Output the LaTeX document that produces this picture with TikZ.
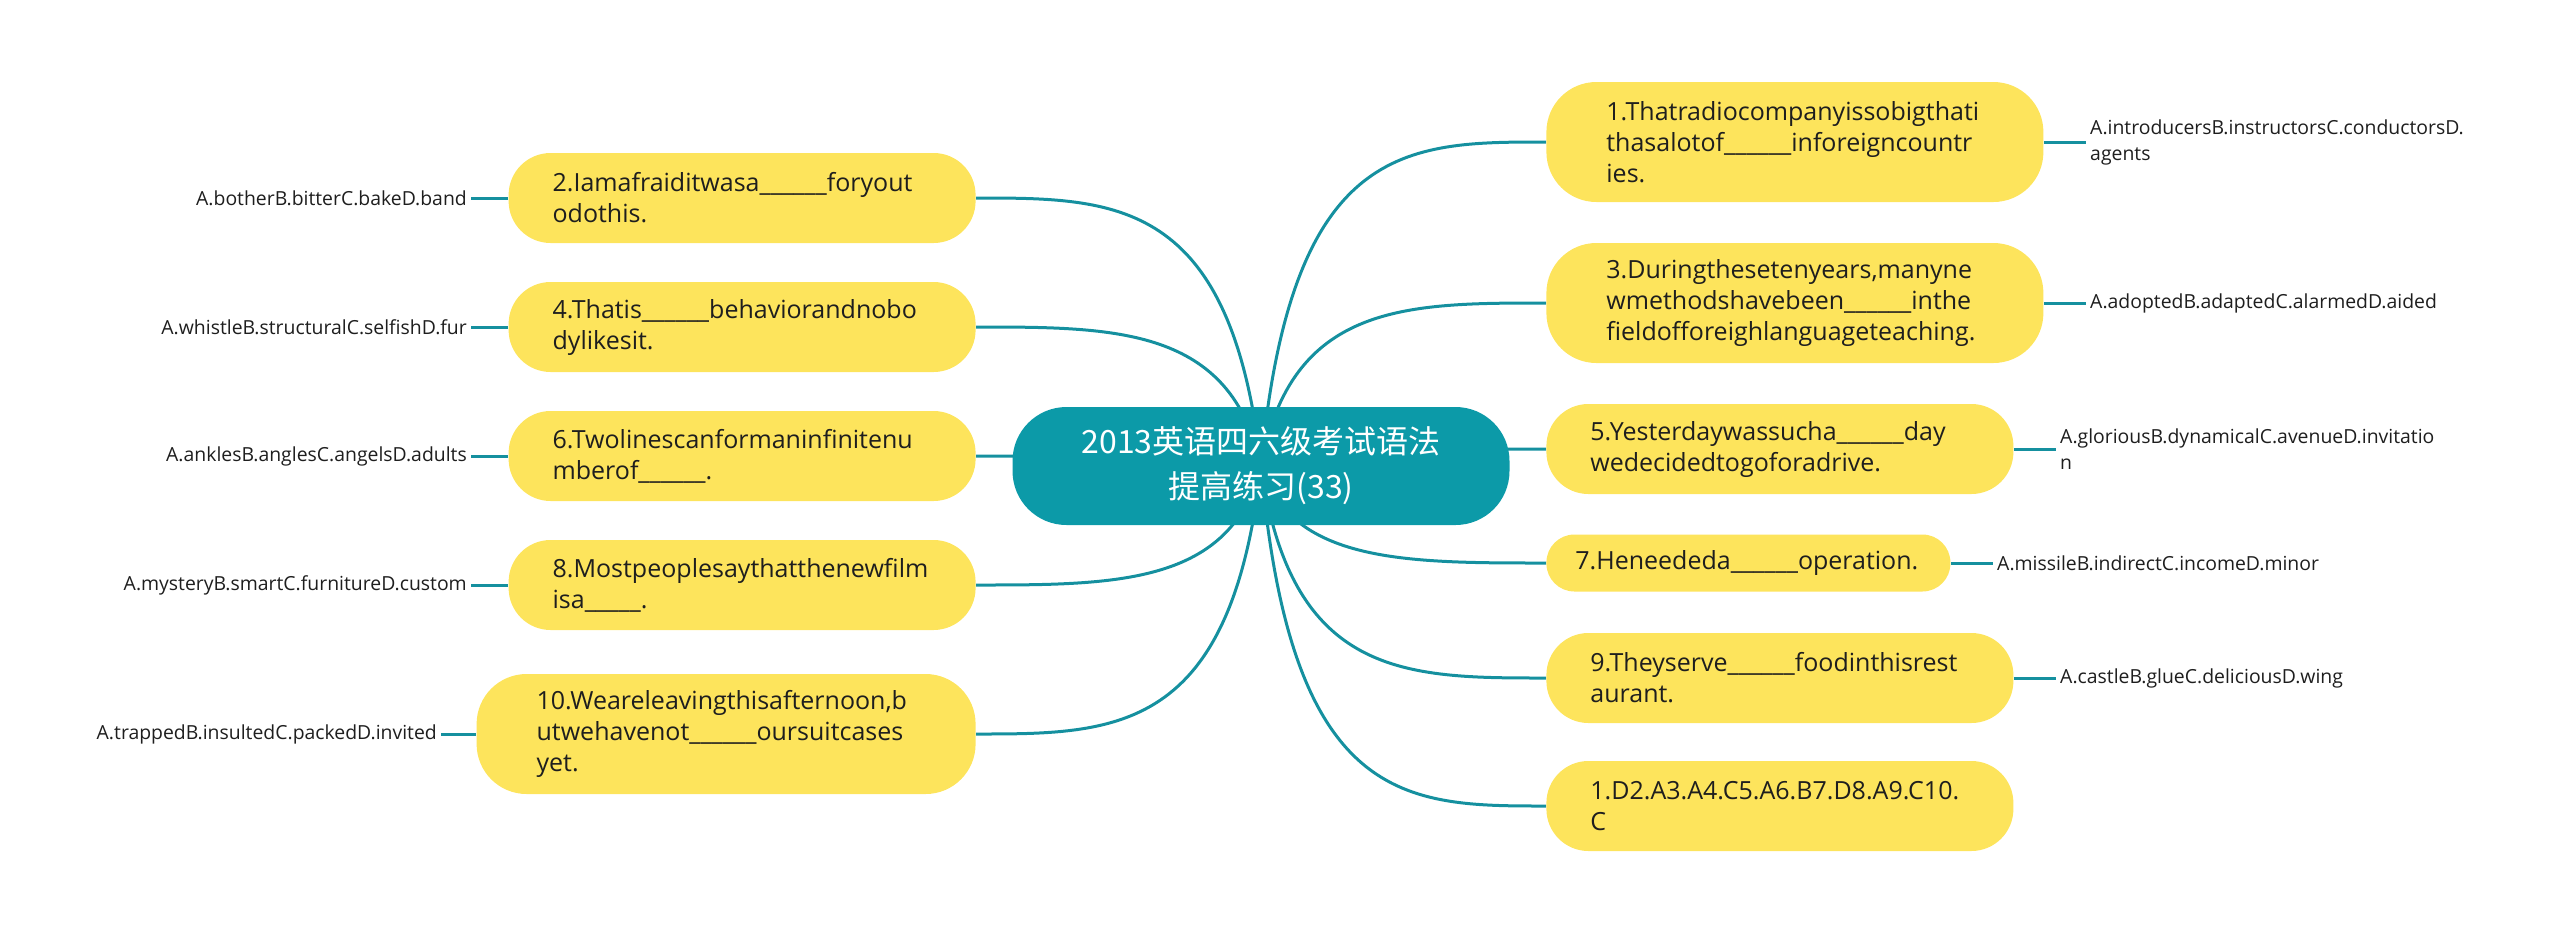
\documentclass[tikz,border=0pt]{standalone}
\usepackage{fontspec}
\setmainfont{Open Sans}
\newfontfamily\cjk{Noto Sans CJK SC}
\usetikzlibrary{backgrounds,calc}
\definecolor{yel}{HTML}{FDE45C}
\definecolor{tealc}{HTML}{0C9AA8}
\definecolor{linec}{HTML}{15909F}
\definecolor{txt}{HTML}{1E1E1E}
\begin{document}
\begin{tikzpicture}[x=0.5pt,y=-0.5pt,
  topic/.style={fill=yel, draw=none, align=left, inner ysep=0pt,
    text=txt, font=\fontsize{12.5}{15.5}\selectfont},
  three/.style={minimum height=60pt, rounded corners=25pt, inner xsep=30pt, text width=188.5pt},
  two/.style={minimum height=45pt, rounded corners=21pt, inner xsep=22pt, text width=189.5pt},
  one/.style={minimum height=28.5pt, rounded corners=14pt, inner xsep=14.5pt, text width=173pt},
  lab/.style={inner xsep=2pt, inner ysep=0pt, text=txt, font=\fontsize{9.7}{13}\selectfont},
  conn/.style={draw=linec, line width=1.5pt},
  centre/.style={fill=tealc, text=white, align=center, minimum width=248.5pt,
    minimum height=59pt, rounded corners=27pt, inner sep=0pt,
    font=\cjk\fontsize{16}{22.5}\selectfont}]
\useasboundingbox (0,0) rectangle (2560,933);
% centre
\node[centre] (c) at (1261,466) {2013英语四六级考试语法\\提高练习(33)};
% right topics
\node[topic, three, anchor=west] (r1) at (1546,142)
  {1.Thatradiocompanyissobigthati\\thasalotof\_\_\_\_\_\_inforeigncountr\\ies.};
\node[topic, three, anchor=west] (r3) at (1546,303)
  {3.Duringthesetenyears,manyne\\wmethodshavebeen\_\_\_\_\_\_inthe\\fieldofforeighlanguageteaching.};
\node[topic, two, anchor=west] (r5) at (1546,449)
  {5.Yesterdaywassucha\_\_\_\_\_\_day\\wedecidedtogoforadrive.};
\node[topic, one, anchor=west] (r7) at (1546,563)
  {7.Heneededa\_\_\_\_\_\_operation.};
\node[topic, two, anchor=west] (r9) at (1546,678)
  {9.Theyserve\_\_\_\_\_\_foodinthisrest\\aurant.};
\node[topic, two, anchor=west] (ra) at (1546,806)
  {1.D2.A3.A4.C5.A6.B7.D8.A9.C10.\\C};
% left topics
\node[topic, two, anchor=east] (l2) at (976,198)
  {2.Iamafraiditwasa\_\_\_\_\_\_foryout\\odothis.};
\node[topic, two, anchor=east] (l4) at (976,327)
  {4.Thatis\_\_\_\_\_\_behaviorandnobo\\dylikesit.};
\node[topic, two, anchor=east] (l6) at (976,456)
  {6.Twolinescanformaninfinitenu\\mberof\_\_\_\_\_\_.};
\node[topic, two, anchor=east] (l8) at (976,585)
  {8.Mostpeoplesaythatthenewfilm\\isa\_\_\_\_\_.};
\node[topic, three, text width=189.5pt, anchor=east] (l10) at (976,734)
  {10.Weareleavingthisafternoon,b\\utwehavenot\_\_\_\_\_\_oursuitcases\\yet.};
% right labels
\node[lab, align=left, anchor=west] (a1) at ($(r1.east)+(42,0)$) {A.introducersB.instructorsC.conductorsD.\\agents};
\node[lab, align=left, anchor=west] (a3) at ($(r3.east)+(42,0)$) {A.adoptedB.adaptedC.alarmedD.aided};
\node[lab, align=left, anchor=west] (a5) at ($(r5.east)+(42,0)$) {A.gloriousB.dynamicalC.avenueD.invitatio\\n};
\node[lab, align=left, anchor=west] (a7) at ($(r7.east)+(42,0)$) {A.missileB.indirectC.incomeD.minor};
\node[lab, align=left, anchor=west] (a9) at ($(r9.east)+(42,0)$) {A.castleB.glueC.deliciousD.wing};
% left labels
\node[lab, align=right, anchor=east] (b2) at ($(l2.west)+(-37,0)$) {A.botherB.bitterC.bakeD.band};
\node[lab, align=right, anchor=east] (b4) at ($(l4.west)+(-37,0)$) {A.whistleB.structuralC.selfishD.fur};
\node[lab, align=right, anchor=east] (b6) at ($(l6.west)+(-37,0)$) {A.anklesB.anglesC.angelsD.adults};
\node[lab, align=right, anchor=east] (b8) at ($(l8.west)+(-37,0)$) {A.mysteryB.smartC.furnitureD.custom};
\node[lab, align=right, anchor=east] (b10) at ($(l10.west)+(-35,0)$) {A.trappedB.insultedC.packedD.invited};
% connectors
\begin{scope}[on background layer]
\foreach \n in {r1,r3,r5,r7,r9,ra}
  \draw[conn] (c.center) .. controls ($(c.center |- \n.west)+(30,0)$) and ($(\n.west)+(-140,0)$) .. (\n.west);
\foreach \n in {l2,l4,l6,l8,l10}
  \draw[conn] (c.center) .. controls ($(c.center |- \n.east)+(-30,0)$) and ($(\n.east)+(140,0)$) .. (\n.east);
\foreach \n/\m in {r1/a1,r3/a3,r5/a5,r7/a7,r9/a9}
  \draw[conn] (\n.east) -- (\m.west);
\foreach \n/\m in {l2/b2,l4/b4,l6/b6,l8/b8,l10/b10}
  \draw[conn] (\n.west) -- (\m.east);
\end{scope}
\end{tikzpicture}
\end{document}
